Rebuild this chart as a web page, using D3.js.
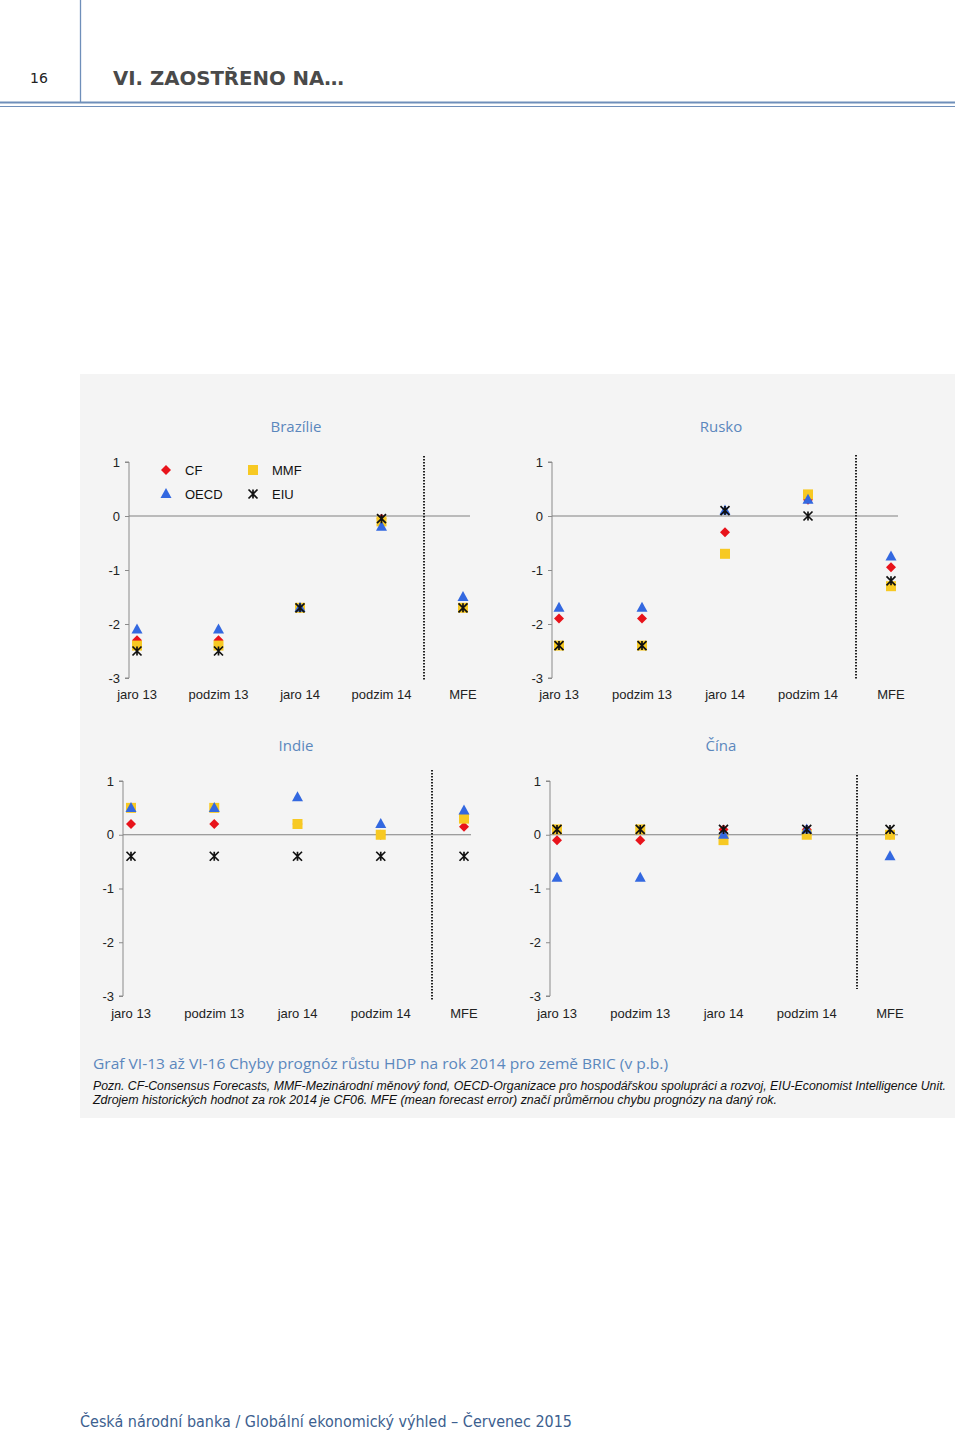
<!DOCTYPE html>
<html><head><meta charset="utf-8">
<script src="https://cdn.jsdelivr.net/npm/d3@7/dist/d3.min.js"></script>
<style>body{margin:0;background:#fff}svg{display:block}</style>
</head><body>
<svg id="c" width="960" height="1433"></svg>
<script>
// ---- data ----
const categories = ["jaro 13", "podzim 13", "jaro 14", "podzim 14", "MFE"];
const yTicks = [1, 0, -1, -2, -3];
const seriesNames = ["CF", "MMF", "OECD", "EIU"];
const panelTitles = ["Brazílie", "Rusko", "Indie", "Čína"];

const brazilCF   = [-2.3, -2.3, -1.7, -0.05, -1.7];
const brazilMMF  = [-2.4, -2.4, -1.7, -0.1, -1.7];
const brazilOECD = [-2.1, -2.1, -1.7, -0.2, -1.5];
const brazilEIU  = [-2.5, -2.5, -1.7, -0.05, -1.7];

const ruskoCF   = [-1.9, -1.9, -0.3, 0.3, -0.95];
const ruskoMMF  = [-2.4, -2.4, -0.7, 0.4, -1.3];
const ruskoOECD = [-1.7, -1.7, 0.1, 0.3, -0.75];
const ruskoEIU  = [-2.4, -2.4, 0.1, 0.0, -1.2];

const indieCF   = [0.2, 0.2, 0.2, 0.0, 0.15];
const indieMMF  = [0.5, 0.5, 0.2, 0.0, 0.3];
const indieOECD = [0.5, 0.5, 0.7, 0.2, 0.45];
const indieEIU  = [-0.4, -0.4, -0.4, -0.4, -0.4];

const cinaCF   = [-0.1, -0.1, 0.1, 0.1, 0.0];
const cinaMMF  = [0.1, 0.1, -0.1, 0.0, 0.0];
const cinaOECD = [-0.8, -0.8, 0.0, 0.1, -0.4];
const cinaEIU  = [0.1, 0.1, 0.1, 0.1, 0.1];

const colors = {CF: "#e8131b", MMF: "#f7c923", OECD: "#3368e0", EIU: "#111111"};

// ---- layout ----
const panels = [
  {title: panelTitles[0], tx: 296, ty: 432, ax: 129, c0: 137, c1: 463, zEnd: 470, dx: 424, dTop: 456, dBot: 680, yTop: 462, yBot: 678, labY: 699,
   data: {CF: brazilCF, MMF: brazilMMF, OECD: brazilOECD, EIU: brazilEIU}, legend: true},
  {title: panelTitles[1], tx: 721, ty: 432, ax: 552, c0: 559, c1: 891, zEnd: 898, dx: 856, dTop: 455, dBot: 680, yTop: 462, yBot: 678, labY: 699,
   data: {CF: ruskoCF, MMF: ruskoMMF, OECD: ruskoOECD, EIU: ruskoEIU}},
  {title: panelTitles[2], tx: 296, ty: 751, ax: 123, c0: 131, c1: 464, zEnd: 471, dx: 432, dTop: 770, dBot: 1000, yTop: 781, yBot: 996, labY: 1018,
   data: {CF: indieCF, MMF: indieMMF, OECD: indieOECD, EIU: indieEIU}},
  {title: panelTitles[3], tx: 721, ty: 751, ax: 550, c0: 557, c1: 890, zEnd: 898, dx: 857, dTop: 775, dBot: 989, yTop: 781, yBot: 996, labY: 1018,
   data: {CF: cinaCF, MMF: cinaMMF, OECD: cinaOECD, EIU: cinaEIU}}
];

const svg = d3.select("#c");

// header
svg.append("line").attr("x1", 80.5).attr("x2", 80.5).attr("y1", 0).attr("y2", 102).attr("stroke", "#6f8fba").attr("stroke-width", 1.3);
svg.append("line").attr("x1", 0).attr("x2", 955).attr("y1", 102.5).attr("y2", 102.5).attr("stroke", "#6f8fba").attr("stroke-width", 2);
svg.append("line").attr("x1", 0).attr("x2", 955).attr("y1", 106.5).attr("y2", 106.5).attr("stroke", "#6f8fba").attr("stroke-width", 1);
svg.append("text").attr("x", 30).attr("y", 83).attr("font-family", "DejaVu Sans, Verdana, sans-serif").attr("font-size", 14).attr("fill", "#222").text("16");
svg.append("text").attr("x", 113).attr("y", 85).attr("font-family", "DejaVu Sans, Verdana, sans-serif").attr("font-weight", "bold").attr("font-size", 19).attr("fill", "#4a4a4a").attr("textLength", 231).attr("lengthAdjust", "spacingAndGlyphs").text("VI. ZAOSTŘENO NA…");

// grey panel
svg.append("rect").attr("x", 80).attr("y", 374).attr("width", 875).attr("height", 744).attr("fill", "#f4f4f4");

// marker drawing
function drawMarker(g, type, x, y) {
  const c = colors[type];
  if (type === "CF") {
    g.append("path").attr("d", `M${x},${y - 5}L${x + 5},${y}L${x},${y + 5}L${x - 5},${y}Z`).attr("fill", c);
  } else if (type === "MMF") {
    g.append("rect").attr("x", x - 5).attr("y", y - 5).attr("width", 10).attr("height", 10).attr("fill", c);
  } else if (type === "OECD") {
    g.append("path").attr("d", `M${x},${y - 6}L${x + 5.5},${y + 4}L${x - 5.5},${y + 4}Z`).attr("fill", c);
  } else {
    const s = 4.5;
    g.append("path").attr("d", `M${x - s},${y - s}L${x + s},${y + s}M${x + s},${y - s}L${x - s},${y + s}M${x},${y - s}L${x},${y + s}`)
      .attr("stroke", c).attr("stroke-width", 1.7).attr("fill", "none");
  }
}

panels.forEach(p => {
  const g = svg.append("g");
  const x = d3.scalePoint().domain(categories).range([p.c0, p.c1]);
  const y = d3.scaleLinear().domain([-3, 1]).range([p.yBot, p.yTop]);

  g.append("text").attr("x", p.tx).attr("y", p.ty).attr("text-anchor", "middle")
    .attr("font-family", "Open Sans, Noto Sans, sans-serif").attr("font-size", 15).attr("fill", "#5b87bd").text(p.title);

  // y axis
  const yAxis = d3.axisLeft(y).tickValues(yTicks).tickSize(4).tickFormat(d => String(d));
  const ya = g.append("g").attr("transform", `translate(${p.ax},0)`).call(yAxis);
  ya.select(".domain").attr("stroke", "#8a8a8a").attr("d", `M-4,${y(1)}H0V${y(-3)}H-4`);
  ya.selectAll(".tick line").attr("stroke", "#8a8a8a");
  ya.selectAll(".tick text").attr("x", -9).attr("font-family", "Liberation Sans, Arial, sans-serif").attr("font-size", 13).attr("fill", "#222");

  // zero line
  g.append("line").attr("x1", p.ax).attr("x2", p.zEnd).attr("y1", y(0)).attr("y2", y(0)).attr("stroke", "#808080").attr("stroke-width", 1);

  // dotted separator
  g.append("line").attr("x1", p.dx).attr("x2", p.dx).attr("y1", p.dTop).attr("y2", p.dBot).attr("stroke", "#222").attr("stroke-width", 2).attr("stroke-dasharray", "1.5,1.5");

  // category labels
  g.selectAll("text.cat").data(categories).join("text").attr("class", "cat")
    .attr("x", d => x(d)).attr("y", p.labY).attr("text-anchor", "middle")
    .attr("font-family", "Liberation Sans, Arial, sans-serif").attr("font-size", 13).attr("fill", "#222").text(d => d);

  // markers
  seriesNames.forEach(s => {
    p.data[s].forEach((v, i) => drawMarker(g, s, x(categories[i]), y(v)));
  });

  if (p.legend) {
    const leg = [
      {s: "CF", mx: 166, ty: 470}, {s: "MMF", mx: 253, ty: 470},
      {s: "OECD", mx: 166, ty: 494}, {s: "EIU", mx: 253, ty: 494}
    ];
    leg.forEach(l => {
      drawMarker(g, l.s, l.mx, l.ty);
      g.append("text").attr("x", l.mx + 19).attr("y", l.ty + 5).attr("font-family", "Liberation Sans, Arial, sans-serif").attr("font-size", 13).attr("fill", "#111").text(l.s);
    });
  }
});

// caption
svg.append("text").attr("x", 93).attr("y", 1069).attr("font-family", "Open Sans, Noto Sans, sans-serif").attr("font-size", 15).attr("fill", "#5b87bd")
  .attr("textLength", 575).attr("lengthAdjust", "spacingAndGlyphs").text("Graf VI-13 až VI-16 Chyby prognóz růstu HDP na rok 2014 pro země BRIC (v p.b.)");
svg.append("text").attr("x", 93).attr("y", 1090).attr("font-family", "Liberation Sans Narrow, Liberation Sans, sans-serif").attr("font-size", 12).attr("font-style", "italic").attr("fill", "#111")
  .attr("textLength", 853).attr("lengthAdjust", "spacingAndGlyphs").text("Pozn. CF-Consensus Forecasts, MMF-Mezinárodní měnový fond, OECD-Organizace pro hospodářskou spolupráci a rozvoj, EIU-Economist Intelligence Unit.");
svg.append("text").attr("x", 93).attr("y", 1104).attr("font-family", "Liberation Sans Narrow, Liberation Sans, sans-serif").attr("font-size", 12).attr("font-style", "italic").attr("fill", "#111")
  .attr("textLength", 684).attr("lengthAdjust", "spacingAndGlyphs").text("Zdrojem historických hodnot za rok 2014 je CF06. MFE (mean forecast error) značí průměrnou chybu prognózy na daný rok.");

// footer
svg.append("text").attr("x", 80).attr("y", 1427).attr("font-family", "DejaVu Sans, Verdana, sans-serif").attr("font-size", 15).attr("fill", "#3d5f8f")
  .attr("textLength", 492).attr("lengthAdjust", "spacingAndGlyphs").text("Česká národní banka / Globální ekonomický výhled – Červenec 2015");
</script>
</body></html>
